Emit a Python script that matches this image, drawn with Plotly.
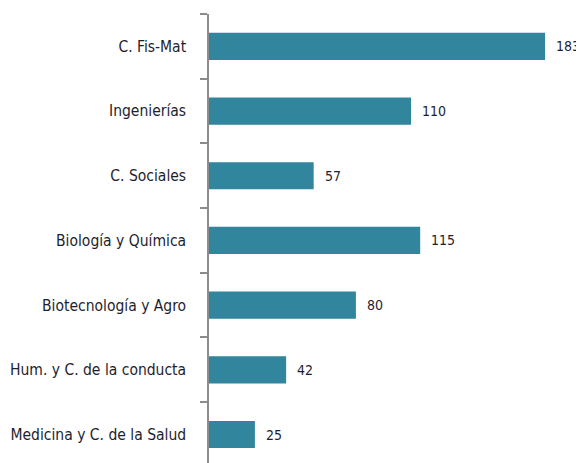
import plotly.graph_objects as go

categories = ["Medicina y C. de la Salud", "Hum. y C. de la conducta", "Biotecnología y Agro",
              "Biología y Química", "C. Sociales", "Ingenierías", "C. Fis-Mat"]
values = [25, 42, 80, 115, 57, 110, 183]

BAR_COLOR = "#31859C"
TEXT_COLOR = "#1E1E2E"
FONT = "DejaVu Sans Condensed, Liberation Sans Narrow, Arial Narrow, sans-serif"

fig = go.Figure(go.Bar(
    x=values, y=categories, orientation="h",
    marker=dict(color=BAR_COLOR, line=dict(width=0)),
    width=0.42,
))

for c, v in zip(categories, values):
    fig.add_annotation(x=v, y=c, text=str(v), showarrow=False, xanchor="left",
                       xshift=9, font=dict(family=FONT, size=14, color=TEXT_COLOR))

fig.update_layout(
    width=576, height=455,
    margin=dict(l=201, r=0, t=6, b=0, autoexpand=False),
    paper_bgcolor="white", plot_bgcolor="white",
    showlegend=False,
    font=dict(family=FONT, size=15.5, color=TEXT_COLOR),
    xaxis=dict(range=[0, 204.2], visible=False, automargin=False),
    yaxis=dict(range=[-0.44, 6.5], showline=True, linecolor="#8C8C8C", linewidth=1.5,
               ticks="outside", ticklen=7, tickcolor="#8C8C8C", tickwidth=1.5,
               tickson="boundaries", showgrid=False, ticklabelstandoff=18,
               automargin=False),
)

fig.write_html("out.html")
